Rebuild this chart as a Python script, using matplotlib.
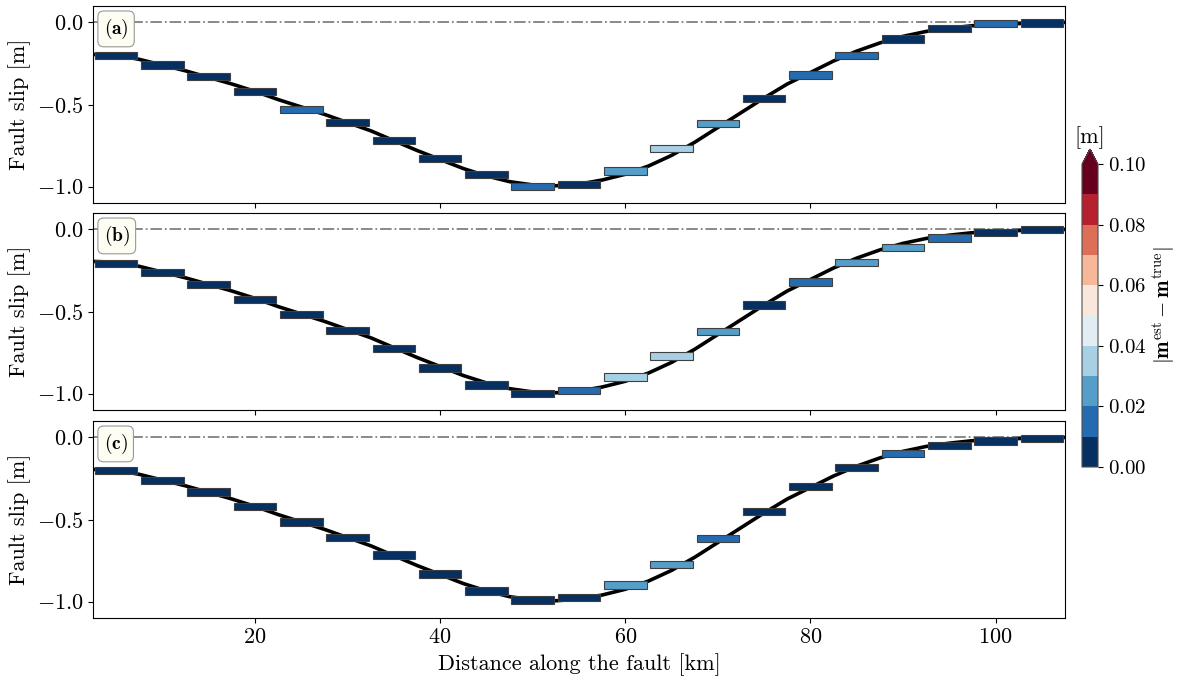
import numpy as np
import matplotlib
matplotlib.use("Agg")
import matplotlib.pyplot as plt
from matplotlib.colors import BoundaryNorm
from matplotlib.cm import ScalarMappable
from matplotlib.ticker import FuncFormatter

plt.rcParams['font.family'] = 'serif'
plt.rcParams['font.serif'] = ['cmr10']
plt.rcParams['mathtext.fontset'] = 'cm'
plt.rcParams['axes.formatter.use_mathtext'] = True

# true slip curve
x_true = [2.5, 5, 7.5, 10, 12.5, 15, 17.5, 20, 22.5, 25, 27.5, 30, 32.5, 35, 37.5,
          40, 42.5, 45, 47.5, 50, 52.5, 55, 57.5, 60, 62.5, 65, 67.5, 70, 72.5, 75,
          77.5, 80, 82.5, 85, 87.5, 90, 92.5, 95, 97.5, 100, 102.5, 105, 107.5]
slip_true = [-0.195, -0.20, -0.225, -0.26, -0.295, -0.335, -0.375, -0.42, -0.47, -0.515,
             -0.56, -0.61, -0.66, -0.72, -0.78, -0.835, -0.89, -0.935, -0.97, -0.99,
             -0.995, -0.985, -0.96, -0.925, -0.875, -0.81, -0.73, -0.64, -0.55, -0.46,
             -0.375, -0.305, -0.235, -0.175, -0.125, -0.085, -0.055, -0.035, -0.02,
             -0.012, -0.007, -0.003, 0.0]

# patch centres along the fault [km]
centers = [5, 10, 15, 20, 25, 30, 35, 40, 45, 50, 55, 60, 65, 70, 75, 80, 85, 90, 95, 100, 105]

# estimated slip per patch, one list per panel
est_a = [-0.20, -0.26, -0.33, -0.42, -0.53, -0.61, -0.72, -0.83, -0.925, -1.0, -0.988,
         -0.904, -0.768, -0.617, -0.464, -0.32, -0.20, -0.10, -0.036, -0.006, -0.004]
est_b = [-0.207, -0.264, -0.334, -0.426, -0.52, -0.614, -0.724, -0.845, -0.948, -0.998, -0.98,
         -0.90, -0.77, -0.62, -0.46, -0.32, -0.20, -0.11, -0.053, -0.018, -0.002]
est_c = [-0.20, -0.262, -0.333, -0.42, -0.515, -0.61, -0.717, -0.833, -0.935, -0.99, -0.976,
         -0.90, -0.775, -0.616, -0.45, -0.30, -0.183, -0.098, -0.048, -0.022, -0.007]

# absolute error per patch (estimated from colours)
err_a = [0.005, 0.005, 0.005, 0.005, 0.015, 0.005, 0.005, 0.005, 0.005, 0.015, 0.005,
         0.025, 0.035, 0.025, 0.005, 0.015, 0.015, 0.005, 0.005, 0.015, 0.005]
err_b = [0.005, 0.005, 0.005, 0.005, 0.005, 0.005, 0.005, 0.005, 0.005, 0.005, 0.015,
         0.035, 0.035, 0.025, 0.005, 0.015, 0.025, 0.025, 0.015, 0.005, 0.005]
err_c = [0.005, 0.005, 0.005, 0.005, 0.005, 0.005, 0.005, 0.005, 0.005, 0.005, 0.005,
         0.025, 0.025, 0.015, 0.005, 0.005, 0.005, 0.015, 0.005, 0.005, 0.005]

panel_labels = ['(a)', '(b)', '(c)']
cb_levels = [0.0, 0.01, 0.02, 0.03, 0.04, 0.05, 0.06, 0.07, 0.08, 0.09, 0.10]
cb_ticks = [0.0, 0.02, 0.04, 0.06, 0.08, 0.10]

cmap = plt.get_cmap('RdBu_r', 10)
norm = BoundaryNorm(cb_levels, 10)

fig = plt.figure(figsize=(11.78, 6.8), dpi=100)
left, width, height = 93 / 1178, 972 / 1178, 197 / 680
bottoms = [1 - 203 / 680, 1 - 410 / 680, 1 - 618 / 680]

axes = []
for i, (est, err) in enumerate(zip([est_a, est_b, est_c], [err_a, err_b, err_c])):
    ax = fig.add_axes([left, bottoms[i], width, height], sharex=axes[0] if axes else None)
    axes.append(ax)
    ax.axhline(0, color='0.5', ls='-.', lw=1.3, zorder=1)
    ax.plot(x_true, slip_true, color='k', lw=2.6, zorder=2)
    bh = 0.045
    ax.bar(centers, bh, width=4.6, bottom=np.array(est) - bh / 2,
           color=cmap(norm(err)), edgecolor='0.25', linewidth=0.8, zorder=3)
    ax.set_xlim(2.5, 107.5)
    ax.set_ylim(-1.1, 0.1)
    ax.set_yticks([0.0, -0.5, -1.0])
    ax.yaxis.set_major_formatter(FuncFormatter(lambda v, p: r'$%.1f$' % v))
    ax.set_xticks([20, 40, 60, 80, 100])
    ax.xaxis.set_major_formatter(FuncFormatter(lambda v, p: r'$%d$' % v))
    ax.tick_params(labelsize=16)
    ax.set_ylabel('Fault slip [m]', fontsize=16)
    ax.text(0.011, 0.945, r'$\mathbf{%s}$' % panel_labels[i], transform=ax.transAxes,
            fontsize=14, va='top', ha='left', zorder=5,
            bbox=dict(boxstyle='round,pad=0.3', fc='#fdfdf3', ec='0.6', lw=0.8))
    if i < 2:
        ax.tick_params(labelbottom=False)

axes[2].set_xlabel('Distance along the fault [km]', fontsize=16)
fig.align_ylabels(axes)

cax = fig.add_axes([1082 / 1178, 1 - 467 / 680, 16 / 1178, 318 / 680])
sm = ScalarMappable(norm=norm, cmap=cmap)
cb = fig.colorbar(sm, cax=cax, extend='max', ticks=cb_ticks)
cb.minorticks_off()
cb.ax.yaxis.set_major_formatter(FuncFormatter(lambda v, p: r'$%.2f$' % v))
cb.ax.tick_params(labelsize=15)
cb.outline.set_edgecolor('0.3')
fig.text(1164 / 1178, 1 - 305 / 680, r'$|\mathbf{m}^{\mathrm{est}} - \mathbf{m}^{\mathrm{true}}|$',
         fontsize=15, rotation=90, ha='center', va='center')
cb.ax.set_title('[m]', fontsize=16, pad=4)

fig.savefig('out.png', dpi=100)
